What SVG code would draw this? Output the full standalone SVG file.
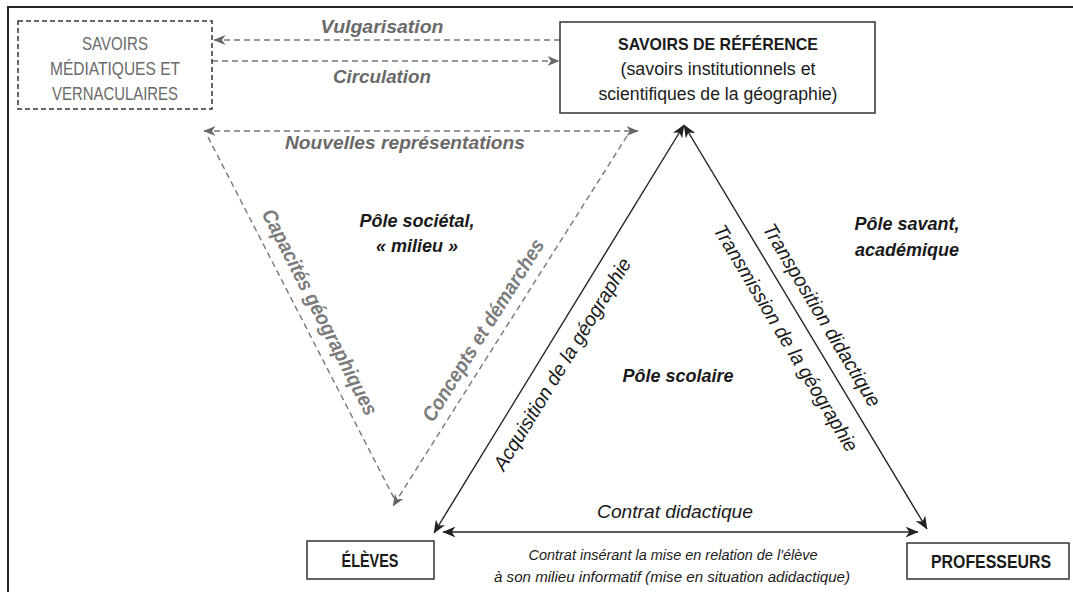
<svg xmlns="http://www.w3.org/2000/svg" width="1073" height="592" viewBox="0 0 1073 592">
<style>
.frame{stroke:#222;stroke-width:2;fill:none}
.box{fill:#fff;stroke:#333;stroke-width:1.5}
.dbox{fill:none;stroke:#333;stroke-width:1.5;stroke-dasharray:5 3}
.solid{stroke:#222;stroke-width:1.4;fill:none}
.dash{stroke:#777;stroke-width:1.4;fill:none;stroke-dasharray:6 4}
.t{font-family:"Liberation Sans",Arial,sans-serif;text-anchor:middle}
.gray{fill:#6a6a6a}
.blk{fill:#1a1a1a}
.bi{font-weight:bold;font-style:italic}
.it{font-style:italic}
.b{font-weight:bold}
</style>
<defs>
<marker id="ah" viewBox="0 0 12 10" refX="11.5" refY="5" markerWidth="13" markerHeight="11" markerUnits="userSpaceOnUse" orient="auto-start-reverse">
<path d="M0,0 L12,5 L0,10 L3.5,5 z" fill="#222"/>
</marker>
<marker id="ahg" viewBox="0 0 12 10" refX="11.5" refY="5" markerWidth="12" markerHeight="10" markerUnits="userSpaceOnUse" orient="auto-start-reverse">
<path d="M0,0 L12,5 L0,10 L3.5,5 z" fill="#666"/>
</marker>
</defs>
<rect width="1073" height="592" fill="#fff"/>
<path class="frame" d="M8,592 L8,7 L1073,7"/>

<g id="connectors">
<line class="dash" x1="560" y1="40" x2="214" y2="40" marker-end="url(#ahg)"/>
<line class="dash" x1="212" y1="61" x2="559" y2="61" marker-end="url(#ahg)"/>
<line class="dash" x1="204" y1="131" x2="638" y2="131" marker-start="url(#ahg)" marker-end="url(#ahg)"/>
<line class="dash" x1="208" y1="137" x2="395" y2="500"/>
<line class="dash" x1="627" y1="136" x2="393" y2="506" marker-end="url(#ahg)"/>
<line class="solid" x1="684" y1="125" x2="434" y2="533" marker-start="url(#ah)" marker-end="url(#ah)"/>
<line class="solid" x1="684" y1="125" x2="927" y2="529" marker-start="url(#ah)" marker-end="url(#ah)"/>
<line class="solid" x1="443" y1="532" x2="918" y2="532" marker-start="url(#ah)" marker-end="url(#ah)"/>
</g>

<g id="savoirs-mediatiques">
<rect class="dbox" x="18" y="21" width="194" height="88"/>
<text class="t gray" font-size="17.5" x="115" y="50" textLength="66" lengthAdjust="spacingAndGlyphs">SAVOIRS</text>
<text class="t gray" font-size="17.5" x="115" y="75" textLength="130" lengthAdjust="spacingAndGlyphs">MÉDIATIQUES ET</text>
<text class="t gray" font-size="17.5" x="115" y="100" textLength="126" lengthAdjust="spacingAndGlyphs">VERNACULAIRES</text>
</g>

<g id="savoirs-reference">
<rect class="box" x="560" y="22" width="315" height="91"/>
<text class="t blk b" font-size="17" x="718" y="50" textLength="200" lengthAdjust="spacingAndGlyphs">SAVOIRS DE RÉFÉRENCE</text>
<text class="t blk" font-size="17.5" x="718" y="75" textLength="195" lengthAdjust="spacingAndGlyphs">(savoirs institutionnels et</text>
<text class="t blk" font-size="17.5" x="718" y="100" textLength="239" lengthAdjust="spacingAndGlyphs">scientifiques de la géographie)</text>
</g>

<g id="eleves">
<rect class="box" x="307" y="541" width="127" height="38"/>
<text class="t blk b" font-size="17.5" x="370" y="567" textLength="57" lengthAdjust="spacingAndGlyphs">ÉLÈVES</text>
</g>

<g id="professeurs">
<rect class="box" x="907" y="543" width="162" height="36"/>
<text class="t blk b" font-size="17.5" x="991" y="568" textLength="120" lengthAdjust="spacingAndGlyphs">PROFESSEURS</text>
</g>

<g id="labels">
<text class="t gray bi" font-size="18.5" x="382" y="33" textLength="123" lengthAdjust="spacingAndGlyphs">Vulgarisation</text>
<text class="t gray bi" font-size="18.5" x="382" y="83" textLength="98" lengthAdjust="spacingAndGlyphs">Circulation</text>
<text class="t gray bi" font-size="18.5" x="405" y="149" textLength="240" lengthAdjust="spacingAndGlyphs">Nouvelles représentations</text>

<text class="t blk bi" font-size="18" x="417" y="227">Pôle sociétal,</text>
<text class="t blk bi" font-size="18" x="417" y="252">« milieu »</text>
<text class="t blk bi" font-size="18" x="907" y="230">Pôle savant,</text>
<text class="t blk bi" font-size="18" x="907" y="256">académique</text>
<text class="t blk bi" font-size="18" x="678" y="382">Pôle scolaire</text>

<text class="t gray it" font-size="20.5" font-weight="bold" dy="0.35em" textLength="229" lengthAdjust="spacingAndGlyphs" transform="translate(320,312) rotate(62.8)" fill-opacity="0.9">Capacités géographiques</text>
<text class="t gray it" font-size="20.5" font-weight="bold" dy="0.35em" textLength="211" lengthAdjust="spacingAndGlyphs" transform="translate(483,330) rotate(-57.9)" fill-opacity="0.9">Concepts et démarches</text>
<text class="t blk it" font-size="20" dy="0.35em" textLength="245" lengthAdjust="spacingAndGlyphs" transform="translate(562,364) rotate(-58.5)">Acquisition de la géographie</text>
<text class="t blk it" font-size="20" dy="0.35em" textLength="210" lengthAdjust="spacingAndGlyphs" transform="translate(822,315) rotate(59)">Transposition didactique</text>
<text class="t blk it" font-size="20" dy="0.35em" textLength="261" lengthAdjust="spacingAndGlyphs" transform="translate(786,338) rotate(59)">Transmission de la géographie</text>

<text class="t blk it" font-size="19" x="675" y="518" textLength="156" lengthAdjust="spacingAndGlyphs">Contrat didactique</text>
<text class="t blk it" font-size="15" x="673" y="560" textLength="289" lengthAdjust="spacingAndGlyphs">Contrat insérant la mise en relation de l'élève</text>
<text class="t blk it" font-size="15" x="672" y="582" textLength="356" lengthAdjust="spacingAndGlyphs">à son milieu informatif (mise en situation adidactique)</text>
</g>
</svg>
